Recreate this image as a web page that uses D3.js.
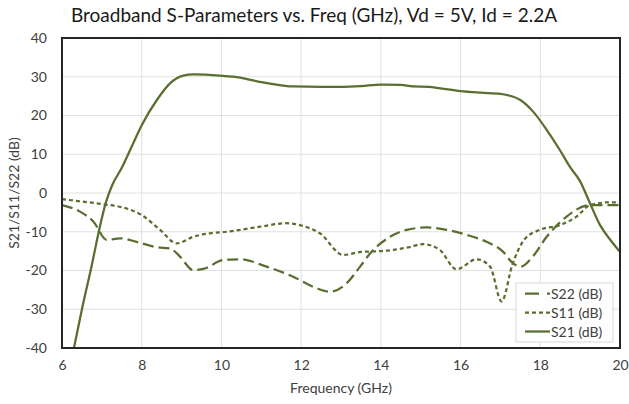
<!DOCTYPE html>
<html>
<head>
<meta charset="utf-8">
<script src="https://cdn.jsdelivr.net/npm/d3@7"></script>
<style>
body{margin:0;background:#fff;}
text{font-family:Lato,"Open Sans",sans-serif;}
</style>
</head>
<body>
<div id="chart"></div>
<script>
// values
var s21Freq=[6.3,6.5,6.75,6.95,7.1,7.25,7.5,7.75,8.0,8.38,8.71,9.04,9.3,9.96,10.47,11.0,11.5,11.8,12.5,13.0,13.5,14.0,14.5,14.8,15.2,15.5,16.0,16.5,17.0,17.2,17.5,17.82,18.16,18.49,18.74,19.0,19.25,19.5,19.75,20.0]
var s21Vals=[-40,-30,-18.5,-8.7,-2.5,1.8,6.5,12,17.5,24,28.3,30.3,30.6,30.3,29.8,28.6,27.8,27.5,27.4,27.4,27.6,28.0,27.9,27.5,27.4,27.0,26.3,25.9,25.6,25.2,24.0,21,16.3,11.1,6.8,3.0,-2.7,-8.3,-12,-15.2]

var s11Freq=[6,6.5,7.04,7.62,8.0,8.46,8.88,9.29,9.71,10.13,10.97,11.64,11.97,12.47,13.06,13.5,14.0,14.31,14.7,15.06,15.48,15.9,16.4,16.74,17.03,17.3,17.6,17.99,18.49,18.91,19.25,19.75,20]
var s11Vals=[-1.6,-2.2,-2.9,-4,-5.7,-9.5,-13,-11.3,-10.4,-10,-8.7,-7.8,-8.3,-10.4,-16,-15.2,-15,-14.7,-14,-13.2,-14.7,-19.7,-17.1,-19,-28,-18.5,-12,-9.5,-8.3,-6.1,-3.1,-2.4,-2.4]

var s22Freq=[6,6.45,6.79,7.12,7.46,7.87,8.38,8.71,8.96,9.29,9.55,10.05,10.47,11.13,11.8,12.3,12.72,13.14,13.48,13.73,14.23,14.65,15.15,15.65,16.15,16.65,17.07,17.3,17.5,17.82,18.16,18.66,19.25,20]
var s22Vals=[-3.1,-4.8,-7.4,-12.1,-11.7,-12.6,-14,-14.3,-16.4,-19.9,-19.6,-17.3,-17.1,-19,-21.6,-24.2,-25.5,-23.3,-19,-15.6,-11.3,-9.5,-8.9,-9.5,-10.8,-12.6,-15.2,-18,-19,-16.3,-11.3,-6.1,-3.1,-3.1]

var xTicks=[6,8,10,12,14,16,18,20]
var yTicks=[-40,-30,-20,-10,0,10,20,30,40]
var legendNames=["S22 (dB)","S11 (dB)","S21 (dB)"]

var lineColor="#5a6e2f"

function makePoints(fs,vs){
	var pts=[]
	for (i in fs){
		pts.push({f:fs[i],v:vs[i]})
	}
	return pts
}

function drawChart(){
	var width=629, height=404
	var margin={left:62,top:38,right:9,bottom:56}
	var svg=d3.select("#chart").append("svg").attr("width",width).attr("height",height)

	var x=d3.scaleLinear().domain([6,20]).range([margin.left,width-margin.right])
	var y=d3.scaleLinear().domain([-40,40]).range([height-margin.bottom,margin.top])

	// gridlines
	svg.append("g").selectAll("line.v").data(xTicks).enter().append("line")
		.attr("x1",function(d){return x(d)}).attr("x2",function(d){return x(d)})
		.attr("y1",y(-40)).attr("y2",y(40))
		.attr("stroke","#e0e0e0").attr("stroke-width",1)
	svg.append("g").selectAll("line.h").data(yTicks).enter().append("line")
		.attr("x1",x(6)).attr("x2",x(20))
		.attr("y1",function(d){return y(d)}).attr("y2",function(d){return y(d)})
		.attr("stroke","#e0e0e0").attr("stroke-width",1)

	// axes (labels only, border drawn separately)
	var plain=function(d){return String(d)}
	svg.append("g").attr("transform","translate(0,"+y(-40)+")")
		.call(d3.axisBottom(x).tickValues(xTicks).tickFormat(plain).tickSize(0).tickPadding(12))
	svg.append("g").attr("transform","translate("+x(6)+",0)")
		.call(d3.axisLeft(y).tickValues(yTicks).tickFormat(plain).tickSize(0).tickPadding(15))
	svg.selectAll(".domain").remove()
	svg.selectAll(".tick text").attr("font-size","14px").attr("fill","#404040")
		.style("font-family","Lato,sans-serif")

	var line=d3.line().x(function(d){return x(d.f)}).y(function(d){return y(d.v)})
		.curve(d3.curveMonotoneX)

	var series=[
		{pts:makePoints(s22Freq,s22Vals),dash:"11,5"},
		{pts:makePoints(s11Freq,s11Vals),dash:"4,3"},
		{pts:makePoints(s21Freq,s21Vals),dash:null}
	]
	svg.append("clipPath").attr("id","clip").append("rect")
		.attr("x",x(6)).attr("y",y(40)).attr("width",x(20)-x(6)).attr("height",y(-40)-y(40))
	series.forEach(function(s){
		svg.append("path").datum(s.pts)
			.attr("clip-path","url(#clip)")
			.attr("d",line)
			.attr("fill","none")
			.attr("stroke",lineColor)
			.attr("stroke-width",2.25)
			.attr("stroke-dasharray",s.dash)
	})

	// plot border
	svg.append("rect").attr("x",x(6)).attr("y",y(40))
		.attr("width",x(20)-x(6)).attr("height",y(-40)-y(40))
		.attr("fill","none").attr("stroke","#262626").attr("stroke-width",2)

	// legend
	var lg=svg.append("g").attr("transform","translate(516,283)")
	lg.append("rect").attr("width",97).attr("height",59)
		.attr("fill","#fff").attr("stroke","#d9d9d9")
	var dashes=["14,8","4,3",null]
	legendNames.forEach(function(n,i){
		var yy=10.5+i*19
		lg.append("line").attr("x1",9).attr("x2",34).attr("y1",yy).attr("y2",yy)
			.attr("stroke",lineColor).attr("stroke-width",2.25).attr("stroke-dasharray",dashes[i])
		lg.append("text").attr("x",35).attr("y",yy+5).attr("font-size","14px")
			.attr("fill","#404040").text(n)
	})

	// titles
	svg.append("text").attr("x",314).attr("y",22).attr("text-anchor","middle")
		.attr("font-size","19px").attr("fill","#1a1a1a")
		.text("Broadband S-Parameters vs. Freq (GHz), Vd = 5V, Id = 2.2A")
	svg.append("text").attr("x",(x(6)+x(20))/2).attr("y",393).attr("text-anchor","middle")
		.attr("font-size","14px").attr("fill","#404040").text("Frequency (GHz)")
	svg.append("text").attr("transform","translate(19,"+y(0)+") rotate(-90)")
		.attr("text-anchor","middle").attr("font-size","14px").attr("fill","#404040")
		.text("S21/S11/S22 (dB)")
}

drawChart()
</script>
</body>
</html>
